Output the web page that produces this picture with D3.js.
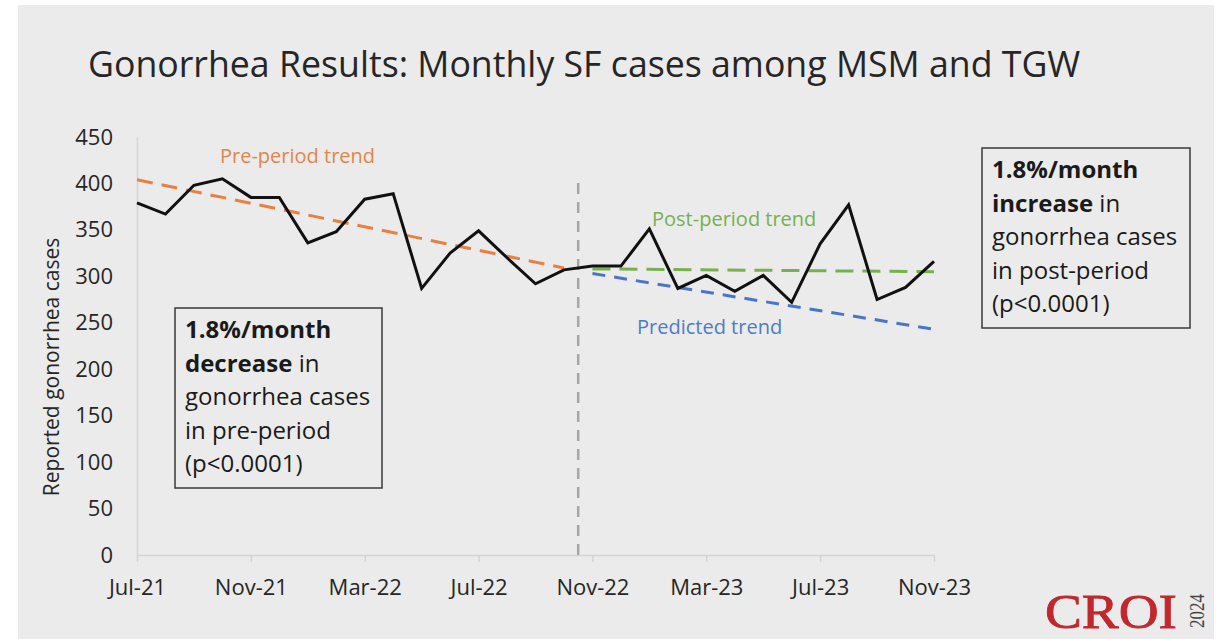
<!DOCTYPE html>
<html>
<head>
<meta charset="utf-8">
<script src="https://cdn.jsdelivr.net/npm/d3@7"></script>
<style>
  body { margin: 0; background: #fff; }
  text { font-family: "Open Sans", sans-serif; }
</style>
</head>
<body>
<div id="chart"></div>
<script>
// monthly reported gonorrhea cases, SF, MSM and TGW
const months = ["Jul-21", "Aug-21", "Sep-21", "Oct-21", "Nov-21", "Dec-21", "Jan-22", "Feb-22",
    "Mar-22", "Apr-22", "May-22", "Jun-22", "Jul-22", "Aug-22", "Sep-22", "Oct-22",
    "Nov-22", "Dec-22", "Jan-23", "Feb-23", "Mar-23", "Apr-23", "May-23", "Jun-23",
    "Jul-23", "Aug-23", "Sep-23", "Oct-23", "Nov-23"];
const cases = [379, 367, 398, 405, 385, 385, 336, 348,
    383, 389, 287, 325, 349, 320, 292, 307,
    311, 311, 351, 287, 301, 284, 301, 272,
    335, 377, 275, 288, 316];
const tickLabels = ["Jul-21", "Nov-21", "Mar-22", "Jul-22", "Nov-22", "Mar-23", "Jul-23", "Nov-23"];
const yTicks = [0, 50, 100, 150, 200, 250, 300, 350, 400, 450];

// fitted trends (start / end points)
const preTrend = [{ month: "Jul-21", value: 404 }, { month: "Oct-22", value: 309 }];
const postTrend = [{ month: "Nov-22", value: 308 }, { month: "Nov-23", value: 305 }];
const predictedTrend = [{ month: "Nov-22", value: 303 }, { month: "Nov-23", value: 243 }];
const cutoff = ["Oct-22", "Nov-22"];
const cutoffTop = 406;

const W = 1217, H = 639;
let margin = { top: 137, right: 283, bottom: 84, left: 137 };

let svg = d3.select("#chart").append("svg")
    .attr("width", W)
    .attr("height", H);

// slide background
svg.append("rect")
    .attr("x", 18).attr("y", 5)
    .attr("width", 1214 - 18).attr("height", H - 5)
    .attr("fill", "#ebebeb");

svg.append("text")
    .attr("x", 88)
    .attr("y", 77)
    .attr("fill", "#262626")
    .style("font-size", "35.7px")
    .text("Gonorrhea Results: Monthly SF cases among MSM and TGW");

let x = d3.scalePoint()
    .domain(months)
    .range([margin.left, W - margin.right]);
let y = d3.scaleLinear()
    .domain([0, 450])
    .range([H - margin.bottom, margin.top]);

// axes
let xAxis = svg.append("g")
    .attr("transform", "translate(0," + y(0) + ")")
    .call(d3.axisBottom(x).tickValues(tickLabels).tickSize(7).tickSizeOuter(0).tickPadding(17));
xAxis.selectAll("text")
    .style("font-size", "22px")
    .style("font-family", "Open Sans")
    .attr("fill", "#262626");

let yAxis = svg.append("g")
    .attr("transform", "translate(" + margin.left + ",0)")
    .call(d3.axisLeft(y).tickValues(yTicks).tickSize(0).tickPadding(24));
yAxis.selectAll("text")
    .style("font-size", "22px")
    .style("font-family", "Open Sans")
    .attr("fill", "#262626");

svg.selectAll(".domain, .tick line")
    .attr("stroke", "#d4d4d4")
    .attr("stroke-width", 1.5);

svg.append("text")
    .attr("transform", "translate(59," + 367 + ") rotate(-90)")
    .style("text-anchor", "middle")
    .style("font-size", "21px")
    .attr("fill", "#262626")
    .text("Reported gonorrhea cases");

// intervention line
let cx = (x(cutoff[0]) + x(cutoff[1])) / 2;
svg.append("line")
    .attr("x1", cx).attr("x2", cx)
    .attr("y1", y(0)).attr("y2", y(cutoffTop))
    .attr("stroke", "#a6a6a6")
    .attr("stroke-width", 2.5)
    .attr("stroke-dasharray", "11,8");

let trendLine = d3.line()
    .x(d => x(d.month))
    .y(d => y(d.value));

svg.append("path")
    .datum(preTrend)
    .attr("d", trendLine)
    .attr("fill", "none")
    .attr("stroke", "#e8803f")
    .attr("stroke-width", 3)
    .attr("stroke-dasharray", "16,9");

svg.append("path")
    .datum(predictedTrend)
    .attr("d", trendLine)
    .attr("fill", "none")
    .attr("stroke", "#4a76c8")
    .attr("stroke-width", 3)
    .attr("stroke-dasharray", "13,9");

svg.append("path")
    .datum(postTrend)
    .attr("d", trendLine)
    .attr("fill", "none")
    .attr("stroke", "#77b04e")
    .attr("stroke-width", 3)
    .attr("stroke-dasharray", "18,9");

// observed cases
svg.append("path")
    .datum(cases)
    .attr("d", d3.line()
        .x((d, i) => x(months[i]))
        .y(d => y(d)))
    .attr("fill", "none")
    .attr("stroke", "#111")
    .attr("stroke-width", 3)
    .attr("stroke-linejoin", "miter");

// trend labels
svg.append("text").attr("x", 220).attr("y", 163)
    .attr("fill", "#e0874b").style("font-size", "20px")
    .text("Pre-period trend");
svg.append("text").attr("x", 652).attr("y", 226)
    .attr("fill", "#78b04f").style("font-size", "20px")
    .text("Post-period trend");
svg.append("text").attr("x", 637).attr("y", 334)
    .attr("fill", "#4f7cc9").style("font-size", "20px")
    .text("Predicted trend");

// annotation boxes
function noteBox(bx, by, bw, bh, lines) {
    svg.append("rect")
        .attr("x", bx).attr("y", by)
        .attr("width", bw).attr("height", bh)
        .attr("fill", "none")
        .attr("stroke", "#3a3a3a")
        .attr("stroke-width", 1.5);
    lines.forEach(function(parts, i) {
        let t = svg.append("text")
            .attr("x", bx + 10)
            .attr("y", by + 30 + i * 33.5)
            .attr("fill", "#1a1a1a")
            .style("font-size", "24px");
        parts.forEach(function(p) {
            t.append("tspan")
                .style("font-weight", p[1] ? "bold" : "normal")
                .text(p[0]);
        });
    });
}

noteBox(175, 308, 207, 180, [
    [["1.8%/month", true]],
    [["decrease", true], [" in", false]],
    [["gonorrhea cases", false]],
    [["in pre-period", false]],
    [["(p<0.0001)", false]]
]);

noteBox(982, 148, 208, 180, [
    [["1.8%/month", true]],
    [["increase", true], [" in", false]],
    [["gonorrhea cases", false]],
    [["in post-period", false]],
    [["(p<0.0001)", false]]
]);

// CROI logo
svg.append("text")
    .attr("x", 1045).attr("y", 628)
    .attr("textLength", 132)
    .attr("lengthAdjust", "spacingAndGlyphs")
    .attr("fill", "#c1272d")
    .attr("stroke", "#c1272d")
    .attr("stroke-width", 0.8)
    .style("font-family", "Liberation Serif")
    .style("font-size", "48px")
    .text("CROI");
svg.append("text")
    .attr("transform", "translate(1204,628) rotate(-90)")
    .attr("textLength", 34)
    .attr("lengthAdjust", "spacingAndGlyphs")
    .attr("fill", "#444")
    .style("font-family", "Liberation Serif")
    .style("font-size", "21px")
    .text("2024");
</script>
</body>
</html>
